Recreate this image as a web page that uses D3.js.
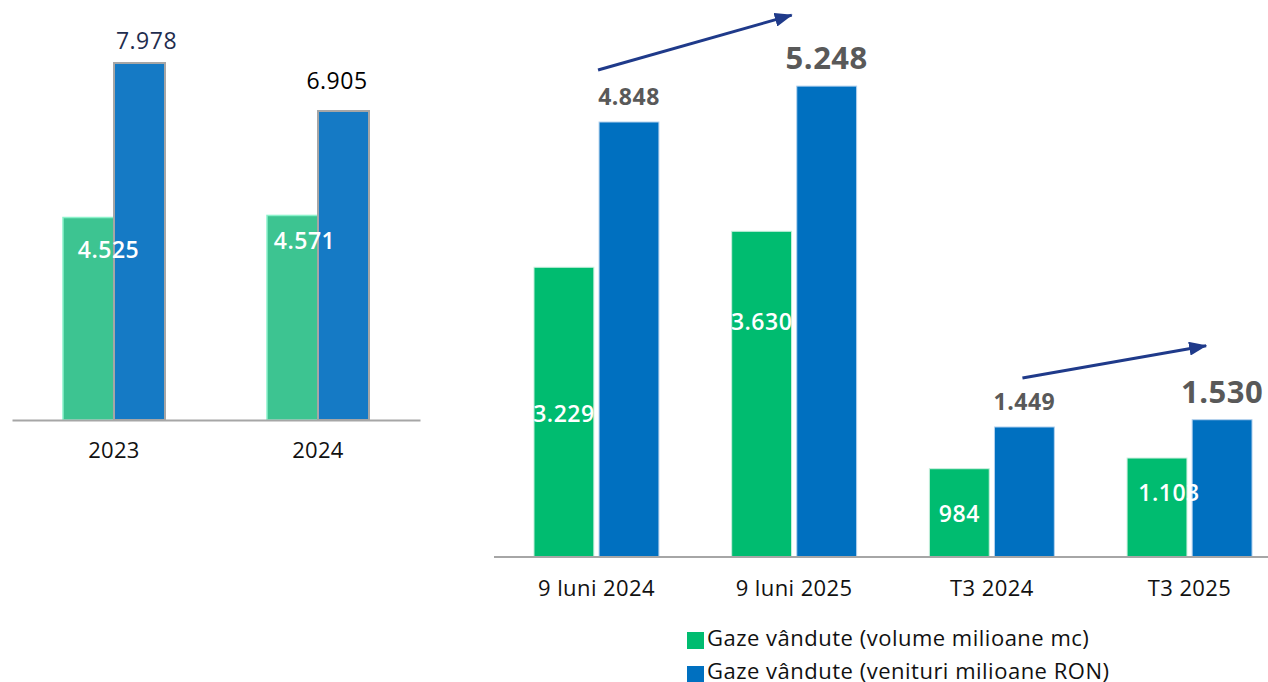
<!DOCTYPE html>
<html>
<head>
<meta charset="utf-8">
<script src="https://cdn.jsdelivr.net/npm/d3@7"></script>
<style>
html,body{margin:0;padding:0;background:#fff;}
svg{display:block;font-family:"Open Sans",sans-serif;}
</style>
</head>
<body>
<svg id="chart" width="1268" height="682"></svg>
<script>
// ---- data ----
const leftCategories = ["2023", "2024"];
const leftVolume = [4525, 4571];
const leftRevenue = [7978, 6905];

const rightCategories = ["9 luni 2024", "9 luni 2025", "T3 2024", "T3 2025"];
const rightVolume = [3229, 3630, 984, 1103];
const rightRevenue = [4848, 5248, 1449, 1530];

const seriesKeys = ["vol", "ron"];
const legendLabels = ["Gaze vândute (volume milioane mc)", "Gaze vândute (venituri milioane RON)"];

const fmt = v => d3.format(",")(v).replace(/,/g, ".");

const svg = d3.select("#chart");

// ---- left chart ----
const xL = d3.scaleBand().domain(leftCategories).range([12, 420]).paddingInner(0.5).paddingOuter(0.25);
const x1L = d3.scaleBand().domain(seriesKeys).range([0, xL.bandwidth()]).padding(0);
const yL = d3.scaleLinear().domain([0, 7978]).range([420, 63]);

const gL = svg.append("g");
const leftRows = leftCategories.map((c, i) => ({cat: c, vol: leftVolume[i], ron: leftRevenue[i], i}));

gL.selectAll("rect.vol").data(leftRows).join("rect")
  .attr("x", d => xL(d.cat) + x1L("vol"))
  .attr("y", d => yL(d.vol))
  .attr("width", x1L.bandwidth())
  .attr("height", d => yL(0) - yL(d.vol))
  .attr("fill", "#3DC491").attr("stroke", "#8CF2CB").attr("stroke-width", 1.5);
gL.selectAll("rect.ron").data(leftRows).join("rect")
  .attr("x", d => xL(d.cat) + x1L("ron"))
  .attr("y", d => yL(d.ron))
  .attr("width", x1L.bandwidth())
  .attr("height", d => yL(0) - yL(d.ron))
  .attr("fill", "#157AC5").attr("stroke", "#A6A6A6").attr("stroke-width", 2);

// axis line
const axL = d3.axisBottom(xL).tickSize(0).tickPadding(0);
const axLG = gL.append("g").attr("transform", `translate(0,${yL(0)})`).call(axL);
axLG.select(".domain").attr("stroke", "#A6A6A6").attr("stroke-width", 2);
axLG.selectAll("text").attr("font-size", 22).attr("fill", "#111").attr("font-family", "Open Sans")
  .attr("letter-spacing", 0.3).attr("y", 38).attr("dy", 0);

// labels
const leftTopDx = [7, -6.5], leftTopGap = [14, 22], leftTopColor = ["#1F2D4E", "#000"];
gL.selectAll("text.top").data(leftRows).join("text")
  .attr("x", d => xL(d.cat) + x1L("ron") + x1L.bandwidth() / 2 + leftTopDx[d.i])
  .attr("y", d => yL(d.ron) - leftTopGap[d.i])
  .attr("text-anchor", "middle").attr("font-size", 23).attr("letter-spacing", 0.5)
  .attr("fill", d => leftTopColor[d.i]).text(d => fmt(d.ron));
const leftInFrac = [0.80, 0.836], leftInDx = [20, 12];
gL.selectAll("text.in").data(leftRows).join("text")
  .attr("x", d => xL(d.cat) + x1L("vol") + x1L.bandwidth() / 2 + leftInDx[d.i])
  .attr("y", d => yL(d.vol * leftInFrac[d.i]))
  .attr("text-anchor", "middle").attr("font-size", 23).attr("font-weight", 600).attr("letter-spacing", 0.5)
  .attr("fill", "#fff").text(d => fmt(d.vol));

// ---- right chart ----
const xR = d3.scaleBand().domain(rightCategories).range([497.6, 1288.4]).paddingInner(0.368).paddingOuter(0.184);
const x1R = d3.scaleBand().domain(seriesKeys).range([0, xR.bandwidth()]).paddingInner(0.08);
const yR = d3.scaleLinear().domain([0, 4848]).range([557, 122]);

const gR = svg.append("g");
const rightRows = rightCategories.map((c, i) => ({cat: c, vol: rightVolume[i], ron: rightRevenue[i], i}));

gR.selectAll("rect.vol").data(rightRows).join("rect")
  .attr("x", d => xR(d.cat) + x1R("vol"))
  .attr("y", d => yR(d.vol))
  .attr("width", x1R.bandwidth())
  .attr("height", d => yR(0) - yR(d.vol))
  .attr("fill", "#00BC70").attr("stroke", "#C9EFDD").attr("stroke-width", 1);
gR.selectAll("rect.ron").data(rightRows).join("rect")
  .attr("x", d => xR(d.cat) + x1R("ron"))
  .attr("y", d => yR(d.ron))
  .attr("width", x1R.bandwidth())
  .attr("height", d => yR(0) - yR(d.ron))
  .attr("fill", "#0070C0").attr("stroke", "#B4D2EE").attr("stroke-width", 1);

// axis
gR.append("line").attr("x1", 494).attr("x2", 1268).attr("y1", yR(0)).attr("y2", yR(0))
  .attr("stroke", "#A6A6A6").attr("stroke-width", 2);
const axR = d3.axisBottom(xR).tickSize(0).tickPadding(0);
const axRG = gR.append("g").attr("transform", `translate(0,${yR(0)})`).call(axR);
axRG.select(".domain").remove();
axRG.selectAll("text").attr("font-size", 22).attr("fill", "#111").attr("font-family", "Open Sans")
  .attr("letter-spacing", 0.4).attr("y", 39).attr("dy", 0);

// top labels
const rightTopSize = [23, 31, 23, 31];
gR.selectAll("text.top").data(rightRows).join("text")
  .attr("x", d => xR(d.cat) + x1R("ron") + x1R.bandwidth() / 2)
  .attr("y", d => yR(d.ron) - 17)
  .attr("text-anchor", "middle").attr("font-size", d => rightTopSize[d.i]).attr("font-weight", 700)
  .attr("letter-spacing", 0.5)
  .attr("fill", "#595959").text(d => fmt(d.ron));
// inner labels
const rightInFrac = [0.466, 0.697, 0.40, 0.566], rightInDx = [0, 0, 0, 12];
gR.selectAll("text.in").data(rightRows).join("text")
  .attr("x", d => xR(d.cat) + x1R("vol") + x1R.bandwidth() / 2 + rightInDx[d.i])
  .attr("y", d => yR(d.vol * rightInFrac[d.i]))
  .attr("text-anchor", "middle").attr("font-size", 23).attr("font-weight", 600).attr("letter-spacing", 0.5)
  .attr("fill", "#fff").text(d => fmt(d.vol));

// arrows
const defs = svg.append("defs");
defs.append("marker").attr("id", "ah").attr("markerUnits", "userSpaceOnUse")
  .attr("viewBox", "0 0 18 14").attr("refX", 17).attr("refY", 7)
  .attr("markerWidth", 18).attr("markerHeight", 14).attr("orient", "auto")
  .append("path").attr("d", "M0,0 L18,7 L0,14 Z").attr("fill", "#1F3A8A");

const ronLeft = c => xR(c) + x1R("ron");
const arrows = [
  {x1: ronLeft(rightCategories[0]) - 1, y1: yR(rightRevenue[0]) - 52, x2: ronLeft(rightCategories[1]) - 5, y2: yR(rightRevenue[1]) - 71},
  {x1: ronLeft(rightCategories[2]) + 28, y1: yR(rightRevenue[2]) - 49, x2: ronLeft(rightCategories[3]) + 14, y2: yR(rightRevenue[3]) - 74}
];
gR.selectAll("line.arrow").data(arrows).join("line")
  .attr("x1", d => d.x1).attr("y1", d => d.y1).attr("x2", d => d.x2).attr("y2", d => d.y2)
  .attr("stroke", "#1F3A8A").attr("stroke-width", 3).attr("marker-end", "url(#ah)");

// legend
const legColors = ["#00BC70", "#0070C0"];
const leg = svg.append("g");
legendLabels.forEach((t, i) => {
  leg.append("rect").attr("x", 687).attr("y", 632 + i * 34).attr("width", 17).attr("height", 17).attr("fill", legColors[i]);
  leg.append("text").attr("x", 707).attr("y", 646 + i * 33).attr("font-size", 22).attr("letter-spacing", 0.5)
    .attr("fill", "#111").text(t);
});
</script>
</body>
</html>
